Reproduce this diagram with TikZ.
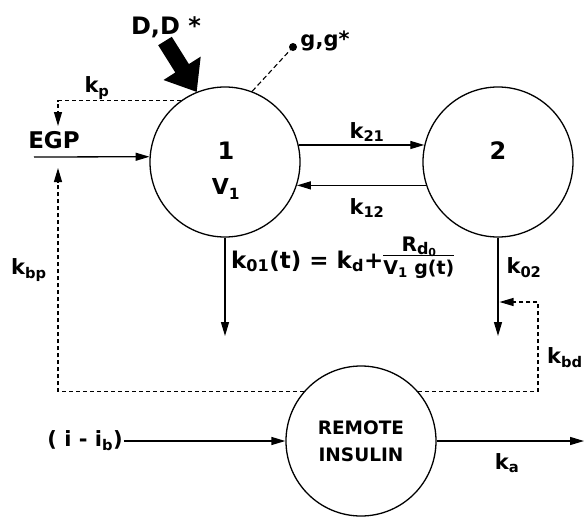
\documentclass[tikz,border=0pt]{standalone}
\usepackage{fontspec}
\setmainfont{DejaVu Sans}
\usetikzlibrary{arrows.meta}
\setlength{\arrayrulewidth}{1.3pt}
\begin{document}
\begin{tikzpicture}[x=1pt,y=-1pt,
  comp/.style={circle,draw,line width=1.3pt,minimum size=150pt,inner sep=0pt,fill=white},
  conn/.style={line width=1.3pt,-{Triangle[length=14pt,width=8pt]}},
  dconn/.style={conn,line width=1.1pt,dash pattern=on 4pt off 3pt},
  dline/.style={line width=1.1pt,dash pattern=on 5pt off 3pt},
  lbl/.style={font=\fontsize{21}{24}\selectfont\bfseries,inner sep=1pt},
  fst/.style={font=\fontsize{23}{26}\selectfont\bfseries,inner sep=1pt},
  big/.style={font=\fontsize{24}{28}\selectfont\bfseries,inner sep=1pt},
  egpst/.style={font=\fontsize{23}{24}\selectfont\bfseries,inner sep=1pt},
  remst/.style={font=\fontsize{18.5}{27}\selectfont\bfseries,align=center},
  dot/.style={circle,fill,inner sep=0pt,minimum size=8pt}]
\useasboundingbox (0,0) rectangle (584,517);

% compartments
\node[comp] (c1) at (225,162) {};
\node[comp] (c2) at (498,162) {};
\node[comp,remst] (c3) at (361,441) {REMOTE\\INSULIN};
\node[big] (one) at (226,151) {1};
\node[lbl,font=\fontsize{22}{24}\selectfont\bfseries] (v1) at (226,189) {V\textsubscript{1}};
\node[big] (two) at (498,151) {2};

% exchange between 1 and 2
\draw[conn] (c1.13) -- (c2.167);
\draw[conn] (c2.198) -- (c1.-18);
\node[lbl] (k21) at (367,132) {k\textsubscript{21}};
\node[lbl] (k12) at (367,208) {k\textsubscript{12}};

% EGP
\node[egpst] (egp) at (54,140) {EGP};
\coordinate (egpin) at (34,157);
\draw[conn] (egpin) -- (c1.176);
\coordinate (kptip) at (58,126);
\draw[dconn] (c1.126) -| (kptip);
\node[lbl] (kp) at (97,88) {k\textsubscript{p}};

% D, D*
\node[big] (dd) at (166,27) {D,D *};
\coordinate (ddL) at (158.2,45.2);
\coordinate (ddR) at (171.8,36.8);
\fill (ddL) -- (ddR) -- (188.9,64.1) -- (200.7,56.6) -- (c1.112) -- (163.5,80) -- (175.3,72.5) -- cycle;

% g, g*
\node[dot] (gdot) at (293,47) {};
\draw[dline] (c1.69) -- (gdot);
\node[lbl] (gg) at (325,41) {g,g*};

% elimination
\coordinate (k01end) at (225,336);
\draw[conn] (c1.south) -- (k01end);
\node[fst,anchor=base west] (k01) at (230,268) {k\textsubscript{01}(t) = k\textsubscript{d}+\raisebox{4pt}{\begin{tabular}{@{}c@{}}{\fontsize{20}{20}\selectfont R\raisebox{-3pt}{\fontsize{16}{16}\selectfont d\raisebox{-2pt}{\fontsize{11}{11}\selectfont 0}}}\\[-5pt]\hline\rule{0pt}{16pt}{\fontsize{19}{19}\selectfont V\textsubscript{1} g(t)}\end{tabular}}};
\coordinate (k02end) at (498,336);
\draw[conn] (c2.south) -- (k02end);
\node[lbl] (k02) at (524,268) {k\textsubscript{02}};

% remote insulin feedback
\coordinate (kbptip) at (58,168);
\draw[dconn] (c3.139) -| (kbptip);
\node[lbl] (kbp) at (29,270) {k\textsubscript{bp}};
\coordinate (kbdcorner) at (538,302);
\coordinate (kbdtip) at (499.5,302);
\draw[dconn] (c3.41) -| (kbdcorner) -- (kbdtip);
\node[lbl] (kbd) at (565,358) {k\textsubscript{bd}};

% insulin input/output
\node[lbl] (iib) at (85,441) {( i - i\textsubscript{b})};
\draw[conn] (iib.east) -- (c3.west);
\coordinate (outend) at (584,441);
\draw[conn] (c3.east) -- (outend);
\node[lbl] (ka) at (507,463) {k\textsubscript{a}};
\end{tikzpicture}
\end{document}
